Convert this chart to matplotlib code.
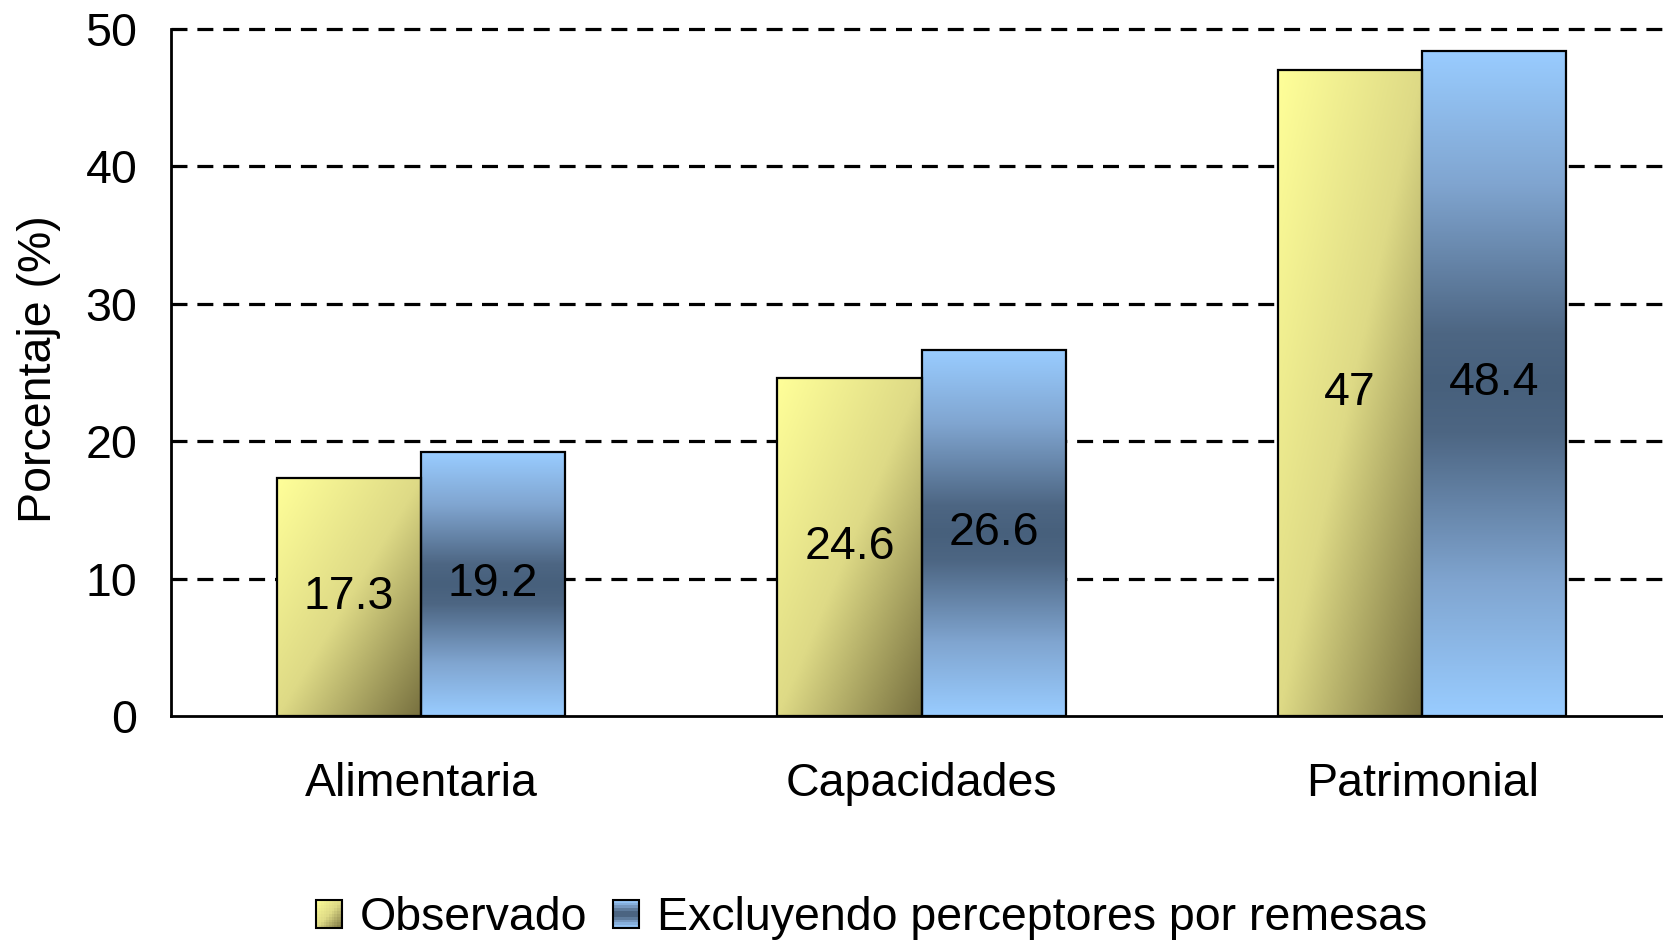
import numpy as np
import matplotlib
matplotlib.use('Agg')
import matplotlib.pyplot as plt
from matplotlib.colors import LinearSegmentedColormap
from matplotlib.patches import Rectangle
from matplotlib.legend_handler import HandlerBase

categories = ['Alimentaria', 'Capacidades', 'Patrimonial']
observado = [17.3, 24.6, 47]
excluyendo = [19.2, 26.6, 48.4]
obs_labels = ['17.3', '24.6', '47']
exc_labels = ['19.2', '26.6', '48.4']
series_names = ['Observado', 'Excluyendo perceptores por remesas']
yticks = [0, 10, 20, 30, 40, 50]

plt.rcParams['font.family'] = ['Liberation Sans', 'DejaVu Sans']
FS = 33.5

yellow_cmap = LinearSegmentedColormap.from_list('yel', ['#FFFF99', '#DEDA86', '#77703F'])
blue_cmap = LinearSegmentedColormap.from_list('blu', [(0, '#47607C'), (0.15, '#4D6683'),
                                                      (0.6, '#80A5D0'), (1, '#99CCFF')])


def yellow_t(u, v):
    # diagonal, light top-left -> dark bottom-right
    return (u + v) / 2


def blue_t(u, v):
    # dark band in the middle, light at top and bottom
    return np.abs(v - 0.5) * 2


def gradient_image(tfunc, cmap, nx=80, ny=300):
    U, V = np.meshgrid(np.linspace(0, 1, nx), np.linspace(0, 1, ny))
    return cmap(tfunc(U, V))


class GradientHandler(HandlerBase):
    """Legend square filled with a small grid of cells to fake the gradient"""

    def __init__(self, tfunc, cmap, n=10):
        super().__init__()
        self.tfunc = tfunc
        self.cmap = cmap
        self.n = n

    def create_artists(self, legend, orig_handle, xdescent, ydescent, width, height, fontsize, trans):
        x0, y0 = -xdescent, -ydescent
        n = self.n
        arts = []
        for i in range(n):
            for j in range(n):
                u = (i + 0.5) / n
                v = (j + 0.5) / n
                arts.append(Rectangle((x0 + i * width / n, y0 + height - (j + 1) * height / n),
                                      width / n, height / n, facecolor=self.cmap(self.tfunc(u, v)),
                                      edgecolor='none', transform=trans))
        arts.append(Rectangle((x0, y0), width, height, facecolor='none', edgecolor='black',
                              lw=1.5, transform=trans))
        return arts


fig = plt.figure(figsize=(16.63, 9.41), dpi=100)
ax = fig.add_axes([0.1027, 0.239, 0.903, 0.7305])

x = np.arange(len(categories))
w = 0.288

#gridlines behind the bars
for yv in yticks[1:]:
    ax.axhline(yv, color='black', lw=2.3, linestyle=(0, (5, 3.1)), zorder=1, clip_on=False)

series = [(observado, obs_labels, -w / 2, yellow_t, yellow_cmap),
          (excluyendo, exc_labels, w / 2, blue_t, blue_cmap)]
for vals, labs, off, tfunc, cmap in series:
    img = gradient_image(tfunc, cmap)
    bars = ax.bar(x + off, vals, w, facecolor='none', edgecolor='black', lw=1.6, zorder=3)
    for b, lab in zip(bars, labs):
        bx, bw, bh = b.get_x(), b.get_width(), b.get_height()
        ax.imshow(img, extent=(bx, bx + bw, 0, bh), aspect='auto', zorder=2, interpolation='bilinear')
        ax.text(bx + bw / 2, bh / 2, lab, ha='center', va='center', fontsize=FS, zorder=4)

ax.set_xlim(-0.5, 2.5)
ax.set_ylim(0, 50)
ax.set_xticks(x)
ax.set_xticklabels(categories, fontsize=FS)
ax.set_yticks(yticks)
ax.set_yticklabels([str(t) for t in yticks], fontsize=FS)
ax.tick_params(axis='x', length=0, pad=33)
ax.tick_params(axis='y', length=0, pad=24)

for s in ['top', 'right']:
    ax.spines[s].set_visible(False)
for s in ['left', 'bottom']:
    ax.spines[s].set_linewidth(2.0)
    ax.spines[s].set_zorder(5)

fig.text(39 / 1663, 1 - 369 / 941, 'Porcentaje (%)', rotation=90, ha='center', va='center', fontsize=FS)

h1 = Rectangle((0, 0), 1, 1)
h2 = Rectangle((0, 0), 1, 1)
fig.legend([h1, h2], series_names, loc='center', bbox_to_anchor=(0.524, 0.024), ncol=2,
           frameon=False, fontsize=FS, handlelength=0.56, handleheight=0.56,
           handletextpad=0.38, columnspacing=0.55,
           handler_map={h1: GradientHandler(yellow_t, yellow_cmap), h2: GradientHandler(blue_t, blue_cmap)})

fig.savefig('out.png', dpi=100)
